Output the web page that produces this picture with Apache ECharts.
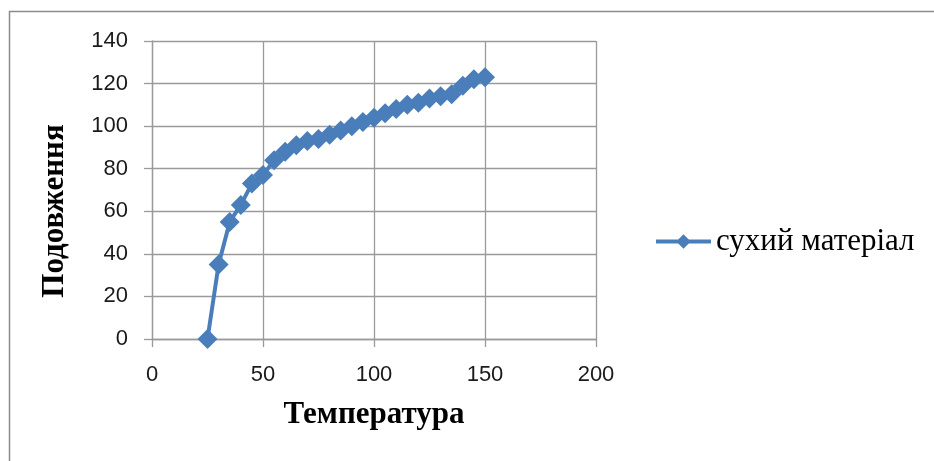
<!DOCTYPE html>
<html>
<head>
<meta charset="utf-8">
<script src="https://cdn.jsdelivr.net/npm/echarts@6/dist/echarts.min.js"></script>
<style>
html,body{margin:0;padding:0;background:#fff;}
#c{width:934px;height:461px;}
</style>
</head>
<body>
<div id="c"></div>
<script>
const seriesName = 'сухий матеріал';
const xTitle = 'Температура';
const yTitle = 'Подовження';
const temperature = [25,30,35,40,45,50,55,60,65,70,75,80,85,90,95,100,105,110,115,120,125,130,135,140,145,150];
const elongation  = [0,35,55,63,73,77,84,88,91,93,94,96,98,100,102,104,106,108,110,111,113,114,115,119,122,123];

const data = temperature.map((t, i) => [t, elongation[i]]);
const chart = echarts.init(document.getElementById('c'), null, {renderer: 'canvas'});
const gridColor = '#9a9a9a';
chart.setOption({
  animation: false,
  backgroundColor: '#fff',
  graphic: [{
    type: 'rect', left: 7, top: 9, silent: true,
    shape: {width: 960, height: 480},
    style: {fill: 'none', stroke: '#8c8c8c', lineWidth: 1.5}
  }],
  grid: {left: 152, right: 338, top: 41, bottom: 122, containLabel: false},
  legend: {
    data: [seriesName],
    left: 649, top: 221,
    itemWidth: 55, itemHeight: 18, itemGap: 2,
    itemStyle: {color: '#4A7EBB'},
    lineStyle: {width: 4, color: '#4A7EBB'},
    textStyle: {fontFamily: 'Liberation Serif', fontSize: 31, color: '#000'}
  },
  xAxis: {
    type: 'value', min: 0, max: 200, interval: 50,
    name: xTitle, nameLocation: 'middle', nameGap: 60,
    nameTextStyle: {fontFamily: 'Liberation Serif', fontWeight: 'bold', fontSize: 31, color: '#000'},
    axisLine: {show: true, onZero: false, lineStyle: {color: gridColor, width: 1.3}},
    axisTick: {show: true, length: 8, lineStyle: {color: gridColor, width: 1.3}},
    axisLabel: {margin: 25, fontFamily: 'Liberation Sans', fontSize: 22, color: '#1a1a1a'},
    splitLine: {show: true, lineStyle: {color: gridColor, width: 1.3}}
  },
  yAxis: {
    type: 'value', min: 0, max: 140, interval: 20,
    name: yTitle, nameLocation: 'middle', nameGap: 82, nameRotate: 90,
    nameTextStyle: {fontFamily: 'Liberation Serif', fontWeight: 'bold', fontSize: 31, color: '#000', padding: [0, 42, 0, 0]},
    axisLine: {show: true, onZero: false, lineStyle: {color: gridColor, width: 1.3}},
    axisTick: {show: true, length: 8, lineStyle: {color: gridColor, width: 1.3}},
    axisLabel: {margin: 24, fontFamily: 'Liberation Sans', fontSize: 22, color: '#1a1a1a'},
    splitLine: {show: true, lineStyle: {color: gridColor, width: 1.3}}
  },
  series: [{
    name: seriesName, type: 'line', data: data,
    symbol: 'diamond', symbolSize: 20,
    lineStyle: {color: '#4A7EBB', width: 4},
    itemStyle: {color: '#4A7EBB'}
  }]
});
</script>
</body>
</html>
